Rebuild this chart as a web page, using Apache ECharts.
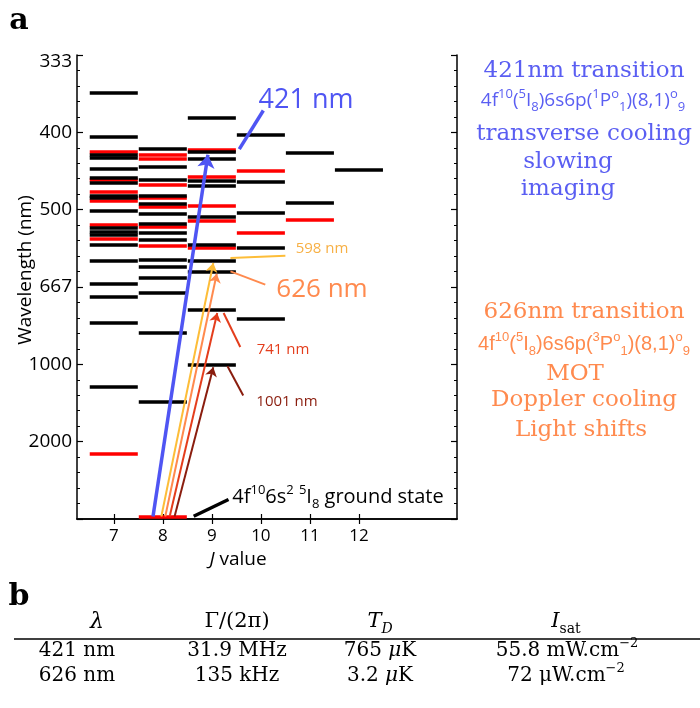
<!DOCTYPE html>
<html><head><meta charset="utf-8">
<script src="https://cdn.jsdelivr.net/npm/echarts@6/dist/echarts.min.js"></script>
<style>html,body{margin:0;padding:0;background:#fff}#c{width:700px;height:708px}</style>
</head><body><div id="c"></div>
<script>
// ---------- data (energies in cm^-1, J values) ----------
const jTicks = [7, 8, 9, 10, 11, 12];
const yTickE = [5000, 10000, 15000, 20000, 25000, 30000];
const yTickLabels = ['2000', '1000', '667', '500', '400', '333'];

const blackJ7 = [27570, 24720, 23550, 23350, 22670, 22080, 21750, 20930, 20740, 19930, 18860, 18600, 18380, 17700, 16700, 15200, 14390, 12670, 8560];
const redJ7 = [23720, 21930, 21150, 20600, 19050, 18150, 4190];
const blackJ8 = [23910, 22750, 21950, 20900, 20410, 19730, 19120, 18500, 18070, 16760, 16290, 15580, 14650, 12030, 7570];
const redJ8 = [23550, 23290, 21620, 20740, 20200, 18900, 17670, 160];
const blackJ9 = [25960, 23740, 23290, 21870, 21560, 19560, 17730, 16720, 15970, 13500, 9990];
const redJ9 = [23850, 22120, 20250, 19260, 17560];
const blackJ10 = [24860, 21780, 19820, 17560, 12930];
const redJ10 = [22510, 18490];
const blackJ11 = [23690, 20470];
const redJ11 = [19380];
const blackJ12 = [22560];
const redJ12 = [];

// transitions from ground state
const arrowNames = ['421 nm', '598 nm', '626 nm', '741 nm', '1001 nm'];
const arrowStartJ = [7.80, 7.97, 8.05, 8.14, 8.24];
const arrowStartE = [160, 160, 160, 160, 160];
const arrowEndJ = [8.92, 9.03, 9.10, 9.11, 9.03];
const arrowEndE = [23550, 16550, 15860, 13320, 9810];

// leader lines for annotations [J1, E1, J2, E2]
const leader421 = [9.56, 23915, 10.05, 26410];
const leader598 = [9.38, 16870, 10.50, 17020];
const leader626 = [9.38, 16010, 10.09, 15150];
const leader741 = [9.24, 13320, 9.58, 11120];
const leader1001 = [9.32, 9870, 9.64, 7980];
const leaderGround = [8.63, 180, 9.34, 1260];

// ---------- styles ----------
const SANS = '"Open Sans", sans-serif';
const SERIF = '"DejaVu Serif", serif';
const C_BLUE = '#4f55f3';
const C_BLUE_T = '#5a5ef2';
const C_YEL = '#fdbd38';
const C_ORA = '#ff8a4e';
const C_RED = '#e43d1c';
const C_DRED = '#8a1d0e';
const arrowColors = [C_BLUE, C_YEL, C_ORA, C_RED, C_DRED];

const HALF = 0.49;
function barData(list) {
  const out = [];
  list.forEach(([j, arr]) => arr.forEach(e => out.push({coords: [[j - HALF, e], [j + HALF, e]]})));
  return out;
}
const blackBars = barData([[7, blackJ7], [8, blackJ8], [9, blackJ9], [10, blackJ10], [11, blackJ11], [12, blackJ12]]);
const redBars = barData([[7, redJ7], [8, redJ8], [9, redJ9], [10, redJ10], [11, redJ11], [12, redJ12]]);

const arrowData = arrowNames.map((n, i) => ({
  name: n,
  coords: [[arrowStartJ[i], arrowStartE[i]], [arrowEndJ[i], arrowEndE[i]]],
  lineStyle: {color: arrowColors[i], width: i === 0 ? 3.5 : 2}
}));
function leader(l, color, w) {
  return {coords: [[l[0], l[1]], [l[2], l[3]]], lineStyle: {color, width: w}};
}
const leaders = [
  leader(leader421, C_BLUE, 3.5), leader(leader598, C_YEL, 2), leader(leader626, C_ORA, 2),
  leader(leader741, C_RED, 2), leader(leader1001, C_DRED, 2), leader(leaderGround, '#000', 3.5)
];

const axisLineStyle = {color: '#000', width: 1.5};
const chart = echarts.init(document.getElementById('c'), null, {renderer: 'canvas'});

function T(x, y, text, o) {
  o = o || {};
  const style = Object.assign({
    text, fill: o.fill || '#000', fontSize: o.size || 16, fontFamily: o.family || SANS,
    fontStyle: o.italic ? 'italic' : 'normal', fontWeight: o.bold ? 'bold' : 'normal',
    align: o.align || 'center', verticalAlign: 'middle'
  }, o.style || {});
  return {type: 'text', x, y, rotation: o.rotation || 0, silent: true, style};
}
function richStyles(fill, family, small) {
  return {
    sup: {fontSize: small, lineHeight: small, verticalAlign: 'top', fill, fontFamily: family},
    sub: {fontSize: small, lineHeight: small, verticalAlign: 'bottom', fill, fontFamily: family}
  };
}
function R(x, y, text, fill, family, size, small, extra) {
  return {type: 'text', x, y, silent: true, style: {
    text, fill, fontSize: size, fontFamily: family, lineHeight: Math.round(size * 1.35),
    align: 'center', verticalAlign: 'middle', rich: Object.assign(richStyles(fill, family, small), (extra || {}))
  }};
}

const graphics = [
  T(19, 21, 'a', {size: 30, family: SERIF, bold: true}),
  T(19, 597, 'b', {size: 30, family: SERIF, bold: true}),
  T(26, 270, 'Wavelength (nm)', {size: 19, rotation: Math.PI / 2}),
  R(238, 560, '{i|J} value', '#000', SANS, 19, 12, {i: {fontStyle: 'italic', fontSize: 19, fontFamily: SANS, fill: '#000'}}),
  // transition labels
  T(306, 100, '421 nm', {size: 27, fill: C_BLUE}),
  T(322, 249, '598 nm', {size: 15, fill: '#f7b045'}),
  T(322, 290, '626 nm', {size: 26, fill: C_ORA}),
  T(283, 350, '741 nm', {size: 15, fill: C_RED}),
  T(287, 402, '1001 nm', {size: 15, fill: C_DRED}),
  R(338, 497, '4f{sup|10}6s{sup|2} {sup|5}I{sub|8} ground state', '#000', SANS, 20, 13),
  // right column, 421
  T(584, 71, '421nm transition', {size: 23, family: SERIF, fill: C_BLUE_T}),
  R(583, 101, '4f{sup|10}({sup|5}I{sub|8})6s6p({sup|1}P{sup|o}{sub|1})(8,1){sup|o}{sub|9}', C_BLUE_T, SANS, 19, 13),
  T(584, 134, 'transverse cooling', {size: 23, family: SERIF, fill: C_BLUE_T}),
  T(568, 162, 'slowing', {size: 23, family: SERIF, fill: C_BLUE_T}),
  T(568, 189, 'imaging', {size: 23, family: SERIF, fill: C_BLUE_T}),
  // right column, 626
  T(584, 312, '626nm transition', {size: 23, family: SERIF, fill: C_ORA}),
  R(584, 344, '4f{sup|10}({sup|5}I{sub|8})6s6p({sup|3}P{sup|o}{sub|1})(8,1){sup|o}{sub|9}', C_ORA, '"Liberation Sans", sans-serif', 20, 13),
  T(575, 374, 'MOT', {size: 23, family: SERIF, fill: C_ORA}),
  T(584, 400, 'Doppler cooling', {size: 23, family: SERIF, fill: C_ORA}),
  T(581, 430, 'Light shifts', {size: 23, family: SERIF, fill: C_ORA}),
  // table
  {type: 'line', silent: true, shape: {x1: 14, y1: 639, x2: 700, y2: 639}, style: {stroke: '#000', lineWidth: 1.3}},
  T(97, 622, 'λ', {size: 22, family: SERIF, italic: true}),
  T(237, 622, 'Γ/(2π)', {size: 21, family: SERIF}),
  R(380, 622, '{i|T}{sub|D}', '#000', SERIF, 21, 14, {i: {fontStyle: 'italic', fontSize: 21, fontFamily: SERIF, fill: '#000'}, sub: {fontSize: 14, lineHeight: 14, verticalAlign: 'bottom', fontStyle: 'italic', fontFamily: SERIF, fill: '#000'}}),
  R(566, 622, '{i|I}{sub|sat}', '#000', SERIF, 21, 14, {i: {fontStyle: 'italic', fontSize: 21, fontFamily: SERIF, fill: '#000'}}),
  T(77, 651, '421 nm', {size: 20, family: SERIF}),
  T(237, 651, '31.9 MHz', {size: 20, family: SERIF}),
  R(380, 651, '765 {i|μ}K', '#000', SERIF, 20, 13, {i: {fontStyle: 'italic', fontSize: 20, fontFamily: SERIF, fill: '#000'}}),
  R(567, 651, '55.8 mW.cm{sup|−2}', '#000', SERIF, 20, 13),
  T(77, 676, '626 nm', {size: 20, family: SERIF}),
  T(237, 676, '135 kHz', {size: 20, family: SERIF}),
  R(380, 676, '3.2 {i|μ}K', '#000', SERIF, 20, 13, {i: {fontStyle: 'italic', fontSize: 20, fontFamily: SERIF, fill: '#000'}}),
  R(566, 676, '72 μW.cm{sup|−2}', '#000', SERIF, 20, 13)
];

const option = {
  animation: false,
  backgroundColor: '#fff',
  grid: {left: 77, right: 243, top: 55, bottom: 189, containLabel: false},
  xAxis: [
    {type: 'value', min: 6.25, max: 14, position: 'bottom',
     axisLine: {lineStyle: axisLineStyle}, splitLine: {show: false},
     axisTick: {inside: true, length: 5, customValues: jTicks, lineStyle: {color: '#000', width: 1.2}},
     axisLabel: {customValues: jTicks, fontSize: 17, fontFamily: SANS, color: '#000', margin: 9}},
    {type: 'value', min: 6.25, max: 14, position: 'top',
     axisLine: {lineStyle: axisLineStyle}, splitLine: {show: false},
     axisTick: {inside: true, length: 5, customValues: jTicks, lineStyle: {color: '#000', width: 1.2}},
     axisLabel: {show: false}}
  ],
  yAxis: [
    {type: 'value', min: 0, max: 30000, interval: 5000, position: 'left',
     axisLine: {show: true, lineStyle: axisLineStyle}, splitLine: {show: false},
     axisTick: {show: true, inside: true, length: 6, lineStyle: {color: '#000', width: 1.2}},
     minorTick: {show: true, splitNumber: 5, length: 3, lineStyle: {color: '#000', width: 1}},
     axisLabel: {
       fontSize: 19, fontFamily: SANS, color: '#000', margin: 5,
       formatter: v => {
         const i = yTickE.indexOf(v);
         if (i < 0) return '';
         return v === 30000 ? '{t|' + yTickLabels[i] + '}' : yTickLabels[i];
       },
       rich: {t: {fontSize: 19, fontFamily: SANS, color: '#000', padding: [14, 0, 0, 0]}}
     }},
    {type: 'value', min: 0, max: 30000, interval: 5000, position: 'right',
     axisLine: {show: true, lineStyle: axisLineStyle}, splitLine: {show: false},
     axisTick: {show: true, inside: true, length: 6, lineStyle: {color: '#000', width: 1.2}},
     minorTick: {show: true, splitNumber: 5, length: 3, lineStyle: {color: '#000', width: 1}},
     axisLabel: {show: false}}
  ],
  series: [
    {type: 'lines', coordinateSystem: 'cartesian2d', xAxisIndex: 0, yAxisIndex: 0, silent: true, z: 2,
     lineStyle: {color: '#ff0000', width: 3.5, opacity: 1}, data: redBars},
    {type: 'lines', coordinateSystem: 'cartesian2d', xAxisIndex: 0, yAxisIndex: 0, silent: true, z: 3,
     lineStyle: {color: '#000000', width: 3.5, opacity: 1}, data: blackBars},
    {type: 'lines', coordinateSystem: 'cartesian2d', xAxisIndex: 0, yAxisIndex: 0, silent: true, z: 4,
     symbol: ['none', 'arrow'], symbolSize: 13, data: arrowData.slice(0, 1), lineStyle: {opacity: 1}},
    {type: 'lines', coordinateSystem: 'cartesian2d', xAxisIndex: 0, yAxisIndex: 0, silent: true, z: 4,
     symbol: ['none', 'arrow'], symbolSize: 9, data: arrowData.slice(1), lineStyle: {opacity: 1}},
    {type: 'lines', coordinateSystem: 'cartesian2d', xAxisIndex: 0, yAxisIndex: 0, silent: true, z: 4,
     symbol: ['none', 'none'], data: leaders, lineStyle: {opacity: 1}}
  ],
  graphic: graphics
};
chart.setOption(option);
</script>
</body></html>
